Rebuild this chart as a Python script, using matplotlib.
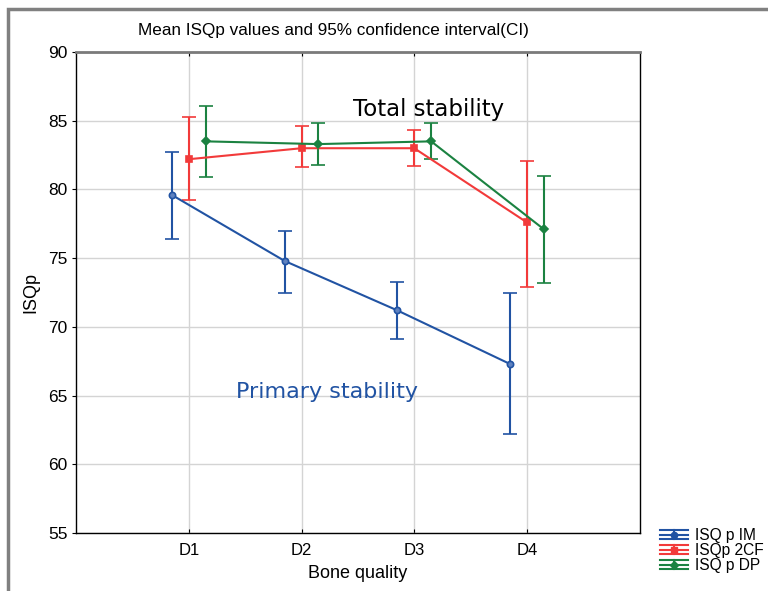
import matplotlib
matplotlib.use("Agg")
import matplotlib.pyplot as plt
from matplotlib.legend_handler import HandlerBase
from matplotlib.lines import Line2D
from matplotlib.patches import Rectangle

plt.rcParams['font.family'] = ['Liberation Sans', 'DejaVu Sans']

categories = ["D1", "D2", "D3", "D4"]
series_names = ["ISQ p IM", "ISQp 2CF", "ISQ p DP"]

im_mean = [79.6, 74.8, 71.2, 67.3]
im_low = [76.4, 72.5, 69.1, 62.2]
im_high = [82.7, 77.0, 73.3, 72.5]

cf_mean = [82.2, 83.0, 83.0, 77.6]
cf_low = [79.2, 81.6, 81.7, 72.9]
cf_high = [85.3, 84.6, 84.3, 82.1]

dp_mean = [83.5, 83.3, 83.5, 77.1]
dp_low = [80.9, 81.8, 82.2, 73.2]
dp_high = [86.1, 84.8, 84.8, 81.0]

colors = ["#2153a3", "#f23a3a", "#1b8241"]
markers = ["o", "s", "D"]
face_colors = ["#5f82c0", "#f23a3a", "#1b8241"]
offsets = [-0.15, 0.0, 0.15]

fig = plt.figure(figsize=(7.68, 5.91), dpi=100)
ax = fig.add_axes([0.099, 0.098, 0.734, 0.814])

series = [(im_mean, im_low, im_high), (cf_mean, cf_low, cf_high), (dp_mean, dp_low, dp_high)]
xbase = list(range(1, len(categories) + 1))
for (mean, low, high), c, fc, m, off, name in zip(series, colors, face_colors, markers, offsets, series_names):
    xs = [x + off for x in xbase]
    yerr = [[mv - lv for mv, lv in zip(mean, low)], [hv - mv for mv, hv in zip(mean, high)]]
    ax.errorbar(xs, mean, yerr=yerr, color=c, marker=m, markersize=4.5 if m != "D" else 4,
                markerfacecolor=fc, markeredgecolor=c, markeredgewidth=1.2,
                linewidth=1.5, elinewidth=1.5,
                capsize=4.8, capthick=1.5, label=name, zorder=3)

ax.set_xlim(0, 5)
ax.set_ylim(55, 90)
ax.set_xticks(xbase)
ax.set_xticklabels(categories)
ax.set_yticks(range(55, 91, 5))
ax.grid(True, color="#d4d4d4", linewidth=1.0, zorder=0)
ax.set_axisbelow(True)
ax.tick_params(axis="both", labelsize=12.5, length=3, color="black")
ax.tick_params(axis="x", direction="in", pad=7, top=True, labelsize=12)
ax.tick_params(axis="y", direction="out", pad=3)
for s in ["left", "bottom", "right"]:
    ax.spines[s].set_color("black")
    ax.spines[s].set_linewidth(1.0)
ax.spines["top"].set_color("#7a7a7a")
ax.spines["top"].set_linewidth(2.0)

ax.set_xlabel("Bone quality", fontsize=13, labelpad=5)
ax.set_ylabel("ISQp", fontsize=13, labelpad=6)

ax.text(3.13, 85.8, "Total stability", fontsize=16.5, color="black",
        family="DejaVu Sans", ha="center", va="center")
ax.text(2.23, 65.3, "Primary stability", fontsize=16, color=colors[0],
        family="DejaVu Sans", ha="center", va="center")

fig.text(0.434, 0.948, "Mean ISQp values and 95% confidence interval(CI)",
         fontsize=12.3, ha="center", va="center")

# outer frame
fig.patches.append(Rectangle((0.0105, -0.02), 1.05, 1.005, transform=fig.transFigure,
                             fill=False, edgecolor="#808080", linewidth=2.5))


class ErrorbarHandle(HandlerBase):
    def __init__(self, color, marker):
        super().__init__()
        self.color = color
        self.marker = marker

    def create_artists(self, legend, orig_handle, xdescent, ydescent, width, height,
                       fontsize, trans):
        arts = []
        cy = height / 2 - ydescent
        for dy in (-height * 0.42, 0, height * 0.42):
            arts.append(Line2D([-xdescent, width - xdescent], [cy + dy, cy + dy],
                               color=self.color, linewidth=1.5, transform=trans))
        mx = width / 2 - xdescent
        arts.append(Line2D([mx, mx], [cy - height * 0.42, cy + height * 0.42],
                           color=self.color, linewidth=1.5, transform=trans))
        arts.append(Line2D([mx], [cy], marker=self.marker, markersize=4.5,
                           color=self.color, transform=trans))
        return arts


handles = [Line2D([], [], color=c) for c in colors]
handler_map = {h: ErrorbarHandle(c, m) for h, c, m in zip(handles, colors, markers)}
fig.legend(handles, series_names, handler_map=handler_map, loc="upper left",
           bbox_to_anchor=(0.859, 0.106), frameon=False, fontsize=11.2,
           handlelength=1.8, handletextpad=0.45, labelspacing=0.0, borderpad=0.0,
           borderaxespad=0.0)

fig.savefig("out.png", dpi=100)
